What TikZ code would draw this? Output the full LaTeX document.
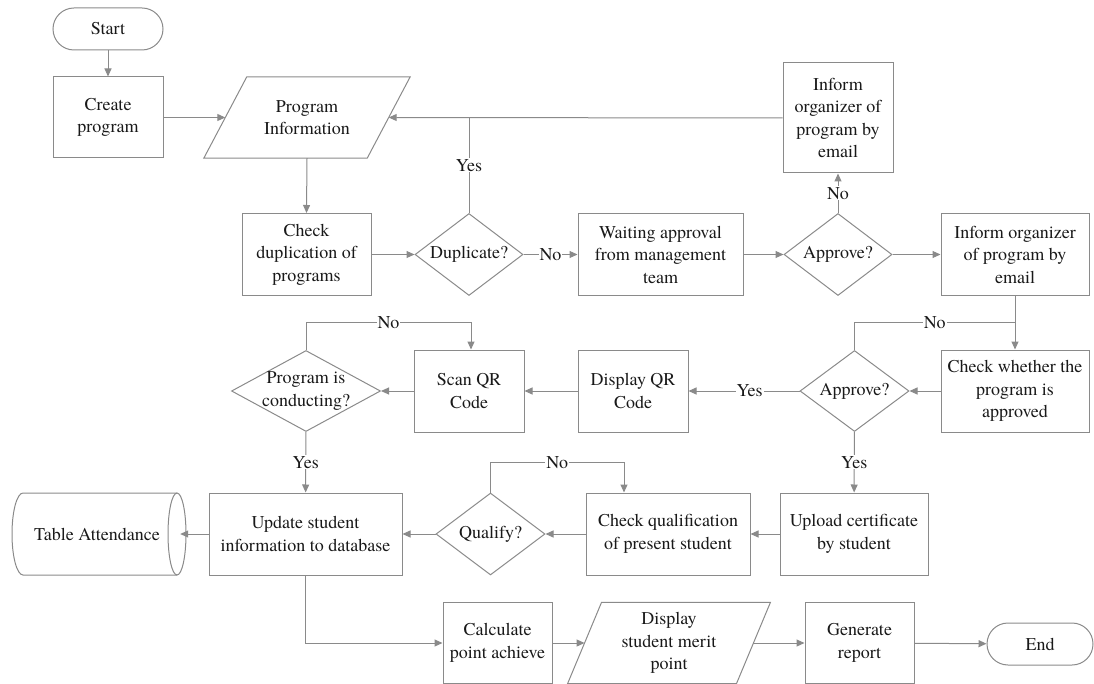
\documentclass[tikz,border=0pt]{standalone}
\usepackage{fontspec}
\setmainfont{TeX Gyre Termes}
\usetikzlibrary{arrows.meta,shapes.geometric,calc}
\definecolor{edge}{RGB}{138,138,138}
\definecolor{ink}{RGB}{25,25,25}
\begin{document}
\begin{tikzpicture}[x=1pt,y=-1pt,
  every node/.style={font=\fontsize{18}{22.5}\selectfont, text=ink, align=center},
  box/.style={draw=edge, line width=1pt, rectangle, inner sep=0pt},
  term/.style={box, rounded corners=21pt, minimum height=42pt},
  plain/.style={rectangle, inner sep=0pt},
  dia/.style={draw=edge, line width=1pt, diamond, inner sep=0pt},
  shapeline/.style={draw=edge, line width=1pt},
  link/.style={draw=edge, line width=1pt},
  arr/.style={link, -{Triangle[length=8pt,width=7pt]}, edge},
  lbl/.style={fill=white, inner sep=1pt}
]
\useasboundingbox (0,0) rectangle (1094,684);

% top row
\node[term, minimum width=110pt] (start) at (108,29) {Start};
\node[box, minimum width=110pt, minimum height=81pt] (create) at (108,117.5) {Create\\program};
\node[plain, minimum width=163pt, minimum height=81pt] (pinfo) at (307,117.5) {Program\\Information};
\draw[shapeline] ([xshift=21.5pt]pinfo.north west) -- ([xshift=21.5pt]pinfo.north east)
  -- ([xshift=-21.5pt]pinfo.south east) -- ([xshift=-21.5pt]pinfo.south west) -- cycle;
\node[box, minimum width=110pt, minimum height=110pt] (inf1) at (838,118) {Inform\\organizer of\\program by\\email};

% second row
\node[box, minimum width=129pt, minimum height=82pt] (chkdup) at (306.5,254.5) {Check\\duplication of\\programs};
\node[dia, minimum width=108pt, minimum height=82pt] (dup) at (469,254.5) {};
\node (duptxt) at (dup) {Duplicate?};
\node[box, minimum width=165pt, minimum height=82pt] (wait) at (660.5,254.5) {Waiting approval\\from management\\team};
\node[dia, minimum width=108pt, minimum height=82pt] (app1) at (838,254.5) {};
\node (app1txt) at (app1) {Approve?};
\node[box, minimum width=148pt, minimum height=82pt] (inf2) at (1015,254.5) {Inform organizer\\of program by\\email};

% third row
\node[box, minimum width=148pt, minimum height=82pt] (chk) at (1015,391) {Check whether the\\program is\\approved};
\node[dia, minimum width=109pt, minimum height=81pt] (app2) at (854.5,391) {};
\node (app2txt) at (app2) {Approve?};
\node[box, minimum width=110pt, minimum height=82pt] (dqr) at (633,391) {Display QR\\Code};
\node[box, minimum width=110pt, minimum height=82pt] (scan) at (469,391) {Scan QR\\Code};
\node[dia, minimum width=149pt, minimum height=81pt] (cond) at (306,391) {};
\node (condtxt) at (cond) {Program is\\conducting?};

% fourth row
\node[plain, minimum width=166pt, minimum height=82pt] (tbl) at (97,534) {Table Attendance};
\draw[shapeline] (177,493) -- (23,493) arc[start angle=90, end angle=270, x radius=11pt, y radius=41pt] -- (177,575);
\draw[shapeline] (177,534) ellipse[x radius=9pt, y radius=41pt];
\node[box, minimum width=193pt, minimum height=82pt] (upd) at (305.5,534) {Update student\\information to database};
\node[dia, minimum width=109pt, minimum height=82pt] (qual) at (490.5,534) {};
\node (qualtxt) at (qual) {Qualify?};
\node[box, minimum width=164pt, minimum height=82pt] (cq) at (668,534) {Check qualification\\of present student};
\node[box, minimum width=148pt, minimum height=82pt] (upl) at (854,534) {Upload certificate\\by student};

% bottom row
\node[box, minimum width=109pt, minimum height=81pt] (calc) at (497.5,643) {Calculate\\point achieve};
\node[plain, minimum width=168.5pt, minimum height=81pt] (disp) at (669,643) {Display\\student merit\\point};
\draw[shapeline] ([xshift=17pt]disp.north west) -- ([xshift=17pt]disp.north east)
  -- ([xshift=-17pt]disp.south east) -- ([xshift=-17pt]disp.south west) -- cycle;
\node[box, minimum width=109pt, minimum height=81pt] (gen) at (859.5,643) {Generate\\report};
\node[term, minimum width=106pt] (end) at (1040,644) {End};

% connectors
\draw[arr] (start) -- (create);
\draw[arr] (create) -- (pinfo.west);
\draw[arr] (pinfo.south) -- (chkdup.north);
\draw[arr] (chkdup) -- (dup);
\draw[arr] (inf1.west) -- (pinfo.east);
\draw[link] (dup.north) -- node[lbl]{Yes} (dup.north |- pinfo.east);
\draw[arr] (dup) -- node[lbl]{No} (wait);
\draw[arr] (wait) -- (app1);
\draw[arr] (app1) -- node[lbl]{No} (inf1);
\draw[arr] (app1) -- (inf2);
\draw[arr] (inf2) -- (chk);
\draw[arr] (chk) -- (app2);
\coordinate (join) at ($(inf2.south)!0.5!(chk.north)$);
\draw[link] (app2.north) |- node[lbl, pos=0.75]{No} (join);
\draw[arr] (app2) -- node[lbl, pos=0.45]{Yes} (dqr);
\draw[arr] (dqr) -- (scan);
\draw[arr] (scan) -- (cond);
\draw[arr] (cond.north) -- ++(0,-27) -| node[lbl, pos=0.25]{No} ([xshift=2pt]scan.north);
\draw[arr] (cond) -- node[lbl]{Yes} (upd);
\draw[arr] (app2) -- node[lbl]{Yes} (upl);
\draw[arr] (upl) -- (cq);
\draw[arr] (cq) -- (qual);
\draw[arr] (qual.north) -- ++(0,-30) -| node[lbl, pos=0.25]{No} ([xshift=-44pt]cq.north);
\draw[arr] (qual) -- (upd);
\draw[arr] (upd.west) -- (tbl.east);
\draw[arr] (upd.south) |- (calc.west);
\draw[arr] (calc) -- (disp.west);
\draw[arr] (disp.east) -- (gen);
\draw[arr] (gen) -- (end);
\end{tikzpicture}
\end{document}
